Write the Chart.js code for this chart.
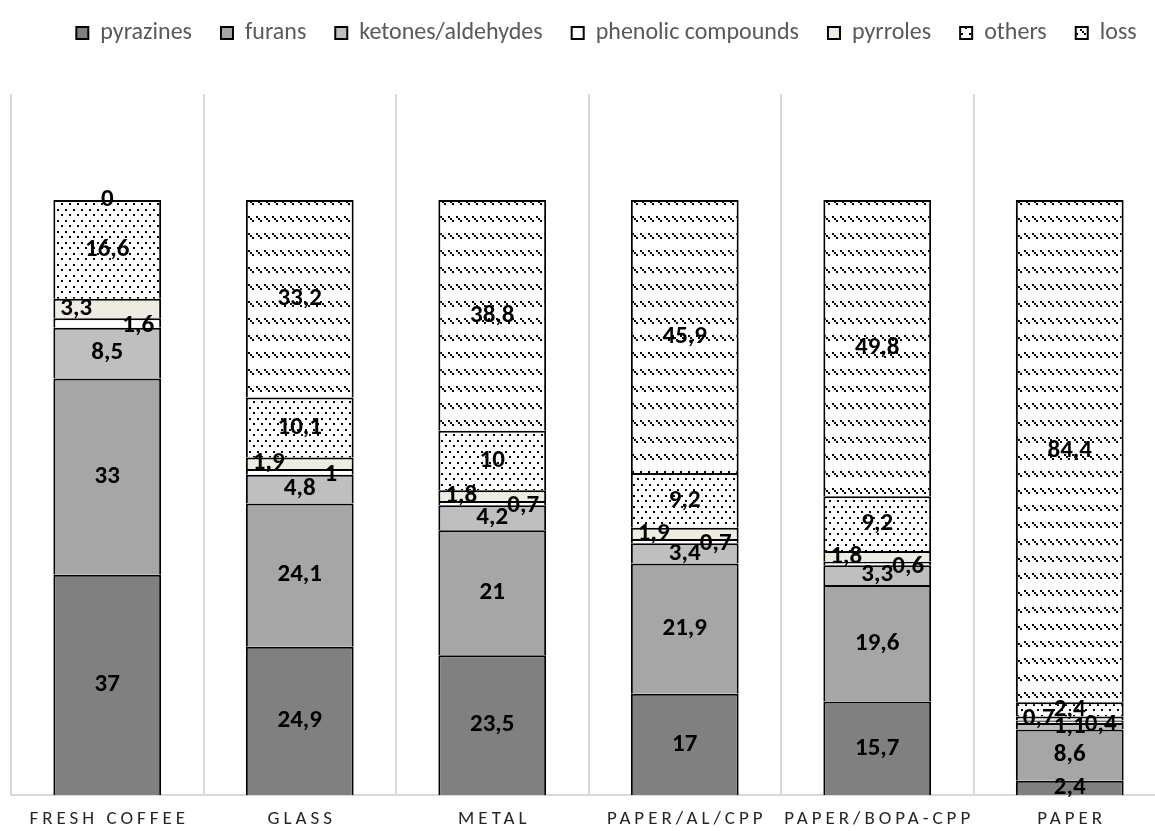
<!DOCTYPE html>
<html>
<head>
<meta charset="utf-8">
<script src="https://cdn.jsdelivr.net/npm/chart.js@4.4.1/dist/chart.umd.min.js"></script>
<style>
  html, body { margin: 0; padding: 0; background: #fff; overflow: hidden; }
  #wrap { position: absolute; left: 0; top: -12px; width: 1180px; height: 843px; }
</style>
</head>
<body>
<div id="wrap"><canvas id="chart0" width="1180" height="843"></canvas></div>
<script>
// categories and series (percent of fresh coffee aroma)
const categories = ['FRESH COFFEE', 'GLASS', 'METAL', 'PAPER/AL/CPP', 'PAPER/BOPA-CPP', 'PAPER'];
const pyrazines = [37, 24.9, 23.5, 17, 15.7, 2.4];
const furans = [33, 24.1, 21, 21.9, 19.6, 8.6];
const ketonesAldehydes = [8.5, 4.8, 4.2, 3.4, 3.3, 1.1];
const phenolicCompounds = [1.6, 1, 0.7, 0.7, 0.6, 0.4];
const pyrroles = [3.3, 1.9, 1.8, 1.9, 1.8, 0.7];
const others = [16.6, 10.1, 10, 9.2, 9.2, 2.4];
const loss = [0, 33.2, 38.8, 45.9, 49.8, 84.4];

const FONT = 'Carlito, Lato, "Open Sans", sans-serif';
const canvas = document.getElementById('chart0');
const ctx = canvas.getContext('2d');

// fill patterns like the excel ones
function makePattern(w, h, draw, dy) {
  const c = document.createElement('canvas');
  c.width = w; c.height = h;
  const g = c.getContext('2d');
  g.fillStyle = '#fff';
  g.fillRect(0, 0, w, h);
  g.fillStyle = '#000';
  draw(g);
  const p = ctx.createPattern(c, 'repeat');
  if (dy) p.setTransform(new DOMMatrix().translate(0, dy));
  return p;
}

const dotPattern = makePattern(8, 11, g => {
  g.fillRect(1, 1, 2, 2);
  g.fillRect(5, 6, 2, 2);
});

// shifted so a row of dashes falls inside the legend swatch
const hatchPattern = makePattern(8, 17, g => {
  [0, 2, 4].forEach(i => g.fillRect(i, i + 1, 2, 2));
}, 6);

// label offsets for the thin slices (phenolic right, pyrroles left)
const labelOffsets = { 3: [31, 3], 4: [-31, 0] };

const barLabels = {
  id: 'barLabels',
  beforeLayout(chart) {
    // make legend block reach down to the plot top
    const lg = chart.legend;
    if (lg && !lg._patched) {
      const fit = lg.fit.bind(lg);
      lg.fit = function () { fit(); this.height = 106; };
      lg._patched = true;
    }
  },
  afterLayout(chart) {
    // legend sits a little right of centre and lower in the original
    if (chart.legend) {
      chart.legend.left += 36;
      chart.legend.top += 4;
    }
  },
  afterDatasetsDraw(chart) {
    const c = chart.ctx;
    c.save();
    c.font = 'bold 25px ' + FONT;
    c.fillStyle = '#000';
    c.textAlign = 'center';
    c.textBaseline = 'middle';
    chart.data.datasets.forEach((ds, di) => {
      const meta = chart.getDatasetMeta(di);
      meta.data.forEach((bar, i) => {
        const off = labelOffsets[di] || [0, 0];
        const y = (bar.y + bar.base) / 2;
        c.fillText(String(ds.data[i]).replace('.', ','), bar.x + off[0], y + off[1]);
      });
    });
    c.restore();
  },
  afterDraw(chart) {
    // category names, spaced out
    const c = chart.ctx;
    const xs = chart.scales.x;
    c.save();
    c.font = '19px ' + FONT;
    c.fillStyle = '#262626';
    c.textAlign = 'center';
    c.textBaseline = 'middle';
    c.letterSpacing = '4px';
    categories.forEach((lab, i) => {
      c.fillText(lab, xs.getPixelForValue(i) + 2, 831);
    });
    c.restore();
  }
};

const seriesStyle = (label, data, fill) => ({
  label: label,
  data: data,
  backgroundColor: fill,
  borderColor: '#000',
  borderWidth: 2,
  barPercentage: 0.56,
  categoryPercentage: 1
});

new Chart(ctx, {
  type: 'bar',
  data: {
    labels: categories,
    datasets: [
      seriesStyle('pyrazines', pyrazines, '#808080'),
      seriesStyle('furans', furans, '#a6a6a6'),
      seriesStyle('ketones/aldehydes', ketonesAldehydes, '#bfbfbf'),
      seriesStyle('phenolic compounds', phenolicCompounds, '#ffffff'),
      seriesStyle('pyrroles', pyrroles, '#eeece1'),
      seriesStyle('others', others, dotPattern),
      seriesStyle('loss', loss, hatchPattern)
    ]
  },
  options: {
    responsive: false,
    animation: false,
    layout: { padding: { left: 11, right: 14, top: 0, bottom: 36 } },
    plugins: {
      tooltip: { enabled: false },
      legend: {
        position: 'top',
        labels: {
          boxWidth: 12,
          boxHeight: 12,
          padding: 29,
          color: '#595959',
          font: { family: FONT, size: 24 }
        }
      }
    },
    scales: {
      x: {
        stacked: true,
        grid: { color: '#d9d9d9', lineWidth: 2, offset: true, drawTicks: false },
        border: { color: '#d9d9d9', width: 2 },
        ticks: { display: false }
      },
      y: {
        stacked: true,
        display: false,
        min: 0,
        max: 117.8
      }
    }
  },
  plugins: [barLabels]
});
</script>
</body>
</html>
